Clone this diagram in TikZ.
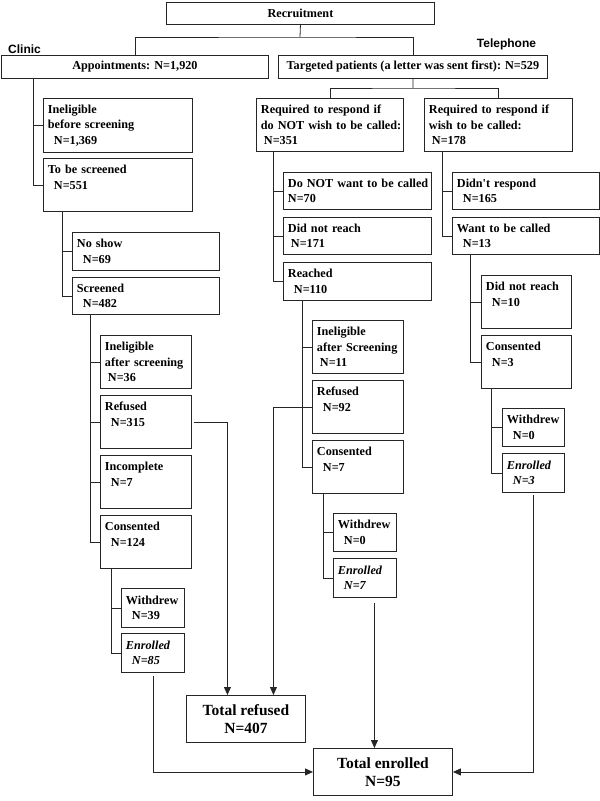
\documentclass[tikz,border=0pt]{standalone}
\usepackage{fontspec}
\setmainfont{Liberation Serif}
\newfontfamily\labelfont{Liberation Sans}
\usetikzlibrary{arrows.meta}

\begin{document}
\begin{tikzpicture}[x=1pt,y=-1pt,
    box/.style={draw=black!85, line width=0.9pt, anchor=north west, inner xsep=4.5pt, inner ysep=0pt,
      align=left, font=\fontsize{12.2}{15.3}\selectfont\bfseries},
    cell/.style 2 args={box, text width=#1, minimum height=#2},
    head/.style={draw=black!85, line width=0.9pt, anchor=north west, inner sep=0pt, align=center,
      font=\fontsize{12.2}{15.3}\selectfont\bfseries},
    tot/.style={draw=black!85, line width=0.9pt, anchor=north west, inner sep=0pt, align=center,
      minimum width=119pt, minimum height=47pt, font=\fontsize{15.5}{18}\selectfont\bfseries},
    arm/.style={font=\labelfont\fontsize{12}{14}\selectfont\bfseries},
    link/.style={draw=black!85, line width=0.8pt},
    arr/.style={link, -{Triangle[length=8pt,width=7pt]}}]
  \useasboundingbox (0,0) rectangle (600,801);

  %top of the chart
  \node[head, minimum width=268pt, minimum height=22pt] (recruit) at (166,2) {Recruitment};
  \node[head, minimum width=267pt, minimum height=23pt] (appt) at (1,55) {Appointments: N=1,920};
  \node[head, minimum width=269pt, minimum height=23pt] (target) at (278,55) {Targeted patients (a letter was sent first): N=529};
  \node[arm] (clinic) at (24.5,49) {Clinic};
  \node[arm] (phone) at (506.5,44) {Telephone};
  \coordinate (rsplit) at (300,37);
  \coordinate (tsplit) at (413,88);
  \draw[link] (recruit.south) -- (rsplit);
  \draw[link] (appt.north) |- (rsplit) -| (target.north);
  \draw[link] (target.south) -- (tsplit);

  %clinic branch
  \node[cell={140pt}{54pt}] (inel1) at (43,98) {Ineligible\\\mbox{before screening}\\\hspace*{6pt}N=1,369};
  \node[cell={140pt}{53pt}] (screen1) at (43,158) {To be screened\\\hspace*{6pt}N=551\\\mbox{}};
  \node[cell={138pt}{38pt}] (noshow) at (72,232) {No show\\\hspace*{6pt}N=69};
  \node[cell={138pt}{37pt}] (screened) at (72,277) {Screened\\\hspace*{6pt}N=482};
  \node[cell={82pt}{53pt}] (inel2) at (100,335) {Ineligible\\\mbox{after screening}\\\hspace*{3pt}N=36};
  \node[cell={82pt}{53pt}] (refused1) at (100,395) {Refused\\\hspace*{6pt}N=315\\\mbox{}};
  \node[cell={82pt}{53pt}] (incompl) at (100,455) {Incomplete\\\hspace*{6pt}N=7\\\mbox{}};
  \node[cell={82pt}{53pt}] (consent1) at (100,515) {Consented\\\hspace*{6pt}N=124\\\mbox{}};
  \node[cell={54pt}{39pt}] (withdrew1) at (121,588) {Withdrew\\\hspace*{6pt}N=39};
  \node[cell={54pt}{39pt}] (enrolled1) at (121,633) {\textit{Enrolled}\\\hspace*{6pt}\textit{N=85}};
  \coordinate (c1) at ([xshift=32pt]appt.south west);
  \draw[link] (c1) |- (inel1.west);
  \draw[link] (c1) |- (screen1.west);
  \coordinate (c2) at ([xshift=19pt]screen1.south west);
  \draw[link] (c2) |- (noshow.west);
  \draw[link] (c2) |- (screened.west);
  \coordinate (c3) at ([xshift=18pt]screened.south west);
  \draw[link] (c3) |- (inel2.west);
  \draw[link] (c3) |- (refused1.west);
  \draw[link] (c3) |- (incompl.west);
  \draw[link] (c3) |- (consent1.west);
  \coordinate (c4) at ([xshift=11pt]consent1.south west);
  \draw[link] (c4) |- (withdrew1.west);
  \draw[link] (c4) |- (enrolled1.west);

  %telephone branch, do NOT wish to be called
  \node[cell={138pt}{53pt}] (reqnot) at (256,98) {\mbox{Required to respond if}\\\mbox{do NOT wish to be called:}\\\hspace*{3pt}N=351};
  \node[cell={139pt}{37pt}] (donot) at (283,172) {\mbox{Do NOT want to be called}\\N=70};
  \node[cell={139pt}{37pt}] (didnot1) at (283,217) {Did not reach\\\hspace*{3pt}N=171};
  \node[cell={139pt}{38pt}] (reached) at (283,262) {Reached\\\hspace*{6pt}N=110};
  \node[cell={82pt}{53pt}] (inel3) at (312,320) {Ineligible\\\mbox{after Screening}\\\hspace*{3pt}N=11};
  \node[cell={82pt}{53pt}] (refused2) at (312,380) {Refused\\\hspace*{6pt}N=92\\\mbox{}};
  \node[cell={82pt}{53pt}] (consent2) at (312,440) {Consented\\\hspace*{6pt}N=7\\\mbox{}};
  \node[cell={54pt}{38pt}] (withdrew2) at (333,513) {Withdrew\\\hspace*{6pt}N=0};
  \node[cell={54pt}{39pt}] (enrolled2) at (333,558) {\textit{Enrolled}\\\hspace*{6pt}\textit{N=7}};
  \coordinate (m1) at ([xshift=17pt]reqnot.south west);
  \draw[link] (m1) |- (donot.west);
  \draw[link] (m1) |- (didnot1.west);
  \draw[link] (m1) |- (reached.west);
  \coordinate (m2) at ([xshift=19pt]reached.south west);
  \draw[link] (m2) |- (inel3.west);
  \draw[link] (m2) |- (consent2.west);
  \coordinate (m3) at ([xshift=11pt]consent2.south west);
  \draw[link] (m3) |- (withdrew2.west);
  \draw[link] (m3) |- (enrolled2.west);

  %telephone branch, wish to be called
  \node[cell={139pt}{53pt}] (reqwish) at (424,98) {\mbox{Required to respond if}\\wish to be called:\\\hspace*{3pt}N=178};
  \node[cell={138pt}{37pt}] (didnt) at (452,172) {Didn\textquotesingle t respond\\\hspace*{6pt}N=165};
  \node[cell={138pt}{37pt}] (want) at (452,217) {Want to be called\\\hspace*{6pt}N=13};
  \node[cell={81pt}{53pt}] (didnot2) at (481,275) {Did not reach\\\hspace*{6pt}N=10\\\mbox{}};
  \node[cell={81pt}{53pt}] (consent3) at (481,335) {Consented\\\hspace*{6pt}N=3\\\mbox{}};
  \node[cell={53pt}{38pt}] (withdrew3) at (502,408) {Withdrew\\\hspace*{6pt}N=0};
  \node[cell={53pt}{39pt}] (enrolled3) at (502,453) {\textit{Enrolled}\\\hspace*{6pt}\textit{N=3}};
  \draw[link] (reqnot.north) |- (tsplit) -| (reqwish.north);
  \coordinate (r1) at ([xshift=18pt]reqwish.south west);
  \draw[link] (r1) |- (didnt.west);
  \draw[link] (r1) |- (want.west);
  \coordinate (r2) at ([xshift=18pt]want.south west);
  \draw[link] (r2) |- (didnot2.west);
  \draw[link] (r2) |- (consent3.west);
  \coordinate (r3) at ([xshift=10pt]consent3.south west);
  \draw[link] (r3) |- (withdrew3.west);
  \draw[link] (r3) |- (enrolled3.west);

  %totals
  \node[tot] (totref) at (186,695) {Total refused\\N=407};
  \node[tot, minimum width=139pt] (totenr) at (313,748) {Total enrolled\\N=95};
  \draw[arr] ([xshift=2pt]refused1.east) -| ([xshift=-18.5pt]totref.north);
  \draw[arr] (refused2.west) -| ([xshift=27.5pt]totref.north);
  \draw[arr] ([yshift=-3pt]enrolled1.south) |- (totenr.west);
  \draw[arr] ([xshift=9.5pt,yshift=-5pt]enrolled2.south) -- ([xshift=-8.5pt]totenr.north);
  \draw[arr] ([yshift=-2pt]enrolled3.south) |- (totenr.east);
\end{tikzpicture}
\end{document}
